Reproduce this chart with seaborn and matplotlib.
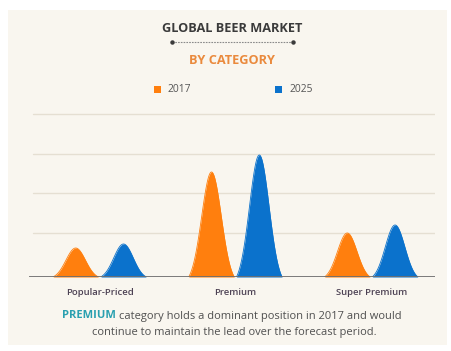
import numpy as np
import pandas as pd
import seaborn as sns
import matplotlib.pyplot as plt
from matplotlib.patches import Rectangle

# Chart data
categories = ["Popular-Priced", "Premium", "Super Premium"]
years = ["2017", "2025"]
values_2017 = [29, 105, 44]
values_2025 = [33, 122, 52]
grid_levels = [44, 84, 123, 163]

colors = {"2017": "#ff7f0e", "2025": "#0b72cc"}
bg = "#f9f6ef"

sns.set_theme(style="white")
plt.rcParams["font.family"] = ["Open Sans", "DejaVu Sans"]

# Bell-shaped peaks, one per category and year
offset = 0.176
sigma = 0.072
half_base = 0.168
rows = []
for i, cat in enumerate(categories):
    for yr, vals, sgn in (("2017", values_2017, -1), ("2025", values_2025, 1)):
        c = i + sgn * offset
        xs = np.linspace(c - half_base, c + half_base, 121)
        base = np.exp(-(half_base ** 2) / (2 * sigma ** 2))
        ys = (np.exp(-((xs - c) ** 2) / (2 * sigma ** 2)) - base) / (1 - base) * vals[i]
        for x, y in zip(xs, ys):
            rows.append({"category": cat, "year": yr, "x": x, "y": y, "grp": f"{cat}-{yr}"})
df = pd.DataFrame(rows)

fig = plt.figure(figsize=(4.52, 3.51), dpi=100)
fig.patch.set_facecolor("white")
fig.patches.append(Rectangle((8 / 452, 6 / 351), 439 / 452, 335 / 351,
                             transform=fig.transFigure, facecolor=bg,
                             edgecolor="none", zorder=-5))

ax = fig.add_axes([29 / 452, 74 / 351, 406 / 452, 175 / 351])
ax.set_zorder(2)
ax.set_facecolor("none")
ax.set_xlim(-0.52, 2.47)
ax.set_ylim(0, 175)

for g in grid_levels:
    ax.axhline(g, color="#e5dfd2", lw=1.0, xmin=0.01, xmax=1.0, zorder=1)

for grp, sub in df.groupby("grp", sort=False):
    yr = sub["year"].iloc[0]
    ax.fill_between(sub["x"], 0, sub["y"], color=colors[yr], lw=0, zorder=2)
sns.lineplot(data=df, x="x", y="y", hue="year", units="grp", estimator=None,
             palette=colors, lw=0.6, legend=False, ax=ax, zorder=3, sort=False)

ax.axhline(0, color="#6e6e6e", lw=2.0, zorder=4)

ax.set_xticks(range(len(categories)))
ax.set_xticklabels(categories, fontweight="semibold")
ax.tick_params(axis="x", length=0, pad=8, labelsize=6.8, labelcolor="#4d4254")
ax.set_yticks([])
ax.set_xlabel("")
ax.set_ylabel("")
for s in ax.spines.values():
    s.set_visible(False)

# Titles
fig.text(232 / 452, 1 - 28 / 351, "GLOBAL BEER MARKET", ha="center", va="center",
         fontsize=9.2, fontweight="bold", color="#3b3b3b")
fig.add_artist(plt.Line2D([172 / 452, 293 / 452], [1 - 42 / 351] * 2,
                          transform=fig.transFigure, color="#8a8a8a", lw=0.8,
                          ls=(0, (1.5, 1))))
fig.add_artist(plt.Line2D([172 / 452, 293 / 452], [1 - 42 / 351] * 2,
                          transform=fig.transFigure, color="#3b3b3b", lw=0,
                          marker="o", markersize=2.2))
fig.text(232 / 452, 1 - 61 / 351, "BY CATEGORY", ha="center", va="center",
         fontsize=9.2, fontweight="bold", color="#ea8a3d")

# Legend
for (xsq, xt, yr) in ((154, 167, "2017"), (275, 289, "2025")):
    fig.patches.append(Rectangle((xsq / 452, 1 - 92.5 / 351), 7 / 452, 7 / 351,
                                 transform=fig.transFigure,
                                 facecolor=colors[yr], edgecolor="none"))
    fig.text(xt / 452, 1 - 89 / 351, yr, ha="left", va="center",
             fontsize=7.4, color="#555555")

# Footnote
line1_y = 1 - 316 / 351
t1 = fig.text(62 / 452, line1_y, "PREMIUM", ha="left", va="center",
              fontsize=8.0, fontweight="bold", color="#2aa0b0")
fig.canvas.draw()
bb = t1.get_window_extent()
fig.text((bb.x1 + 3) / 452, line1_y,
         "category holds a dominant position in 2017 and would",
         ha="left", va="center", fontsize=8.0, color="#505050")
fig.text(234 / 452, 1 - 333 / 351,
         "continue to maintain the lead over the forecast period.",
         ha="center", va="center", fontsize=8.0, color="#505050")

fig.savefig("out.png", dpi=100, facecolor="white")
